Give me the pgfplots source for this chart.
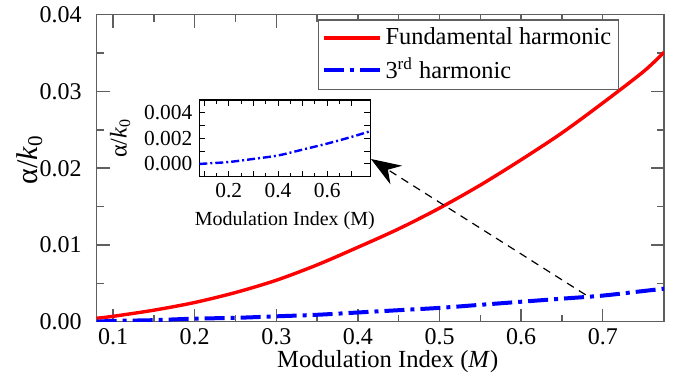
\documentclass[border=0pt]{standalone}
\usepackage{fontspec}
\setmainfont{Liberation Serif}
\usepackage{pgfplots}
\pgfplotsset{compat=1.18}
\usetikzlibrary{arrows.meta,calc}
\definecolor{axgray}{RGB}{95,95,95}
\begin{document}
\begin{tikzpicture}
\begin{axis}[name=main, scale only axis, width=283.65pt, height=153.5pt,
  xmin=0.08, xmax=0.775, ymin=0, ymax=0.04,
  xtick={0.1,0.2,0.3,0.4,0.5,0.6,0.7}, ytick={0,0.01,0.02,0.03,0.04},
  minor x tick num=1, minor y tick num=1,
  tick align=inside, major tick length=6.5pt, minor tick length=3.5pt,
  axis line style={axgray, line width=0.7pt},
  every tick/.style={axgray, line width=0.7pt},
  scaled y ticks=false, scaled x ticks=false,
  /pgf/number format/assume math mode=true,
  tick label style={font=\fontsize{12}{14}\selectfont},
  yticklabel style={xshift=-4pt, /pgf/number format/.cd, fixed, fixed zerofill, precision=2},
  xticklabel style={/pgf/number format/.cd, fixed, fixed zerofill, precision=1},
  xlabel={Modulation Index (\textit{M})},
  ylabel={α/\textit{k}\textsubscript{0}},
  xlabel style={font=\fontsize{12.3}{14}\selectfont, at={(rel axis cs:0.513,0)}, anchor=base, yshift=-23pt, inner sep=0pt},
  ylabel style={font=\fontsize{15}{17}\selectfont, at={(rel axis cs:-0.118,0.527)}, anchor=center},
  legend style={at={(rel axis cs:0.39,0.985)}, anchor=north west, draw=axgray, line width=0.6pt,
    font=\fontsize{12.2}{14}\selectfont, cells={anchor=west}, inner xsep=1.5pt, inner ysep=2pt, row sep=1pt},
  legend image code/.code={\draw[#1] (0pt,0pt) -- (28pt,0pt);},
]
\addplot[red, line width=1.7pt, smooth] coordinates {
(0.08,0.00045) (0.10,0.0007) (0.15,0.0015) (0.20,0.0025) (0.25,0.0038) (0.30,0.0054)
(0.35,0.0074) (0.40,0.0097) (0.45,0.0121) (0.50,0.0148) (0.55,0.0178) (0.60,0.0211)
(0.65,0.0246) (0.70,0.0285) (0.75,0.0326) (0.775,0.0351)};
\addlegendentry{Fundamental harmonic}
\addplot[blue, line width=2pt, smooth, dash pattern=on 10pt off 3pt on 2pt off 3pt] coordinates {
(0.08,0.0000) (0.10,0.0001) (0.15,0.0002) (0.20,0.0004) (0.25,0.0005) (0.30,0.0007)
(0.35,0.0009) (0.40,0.0012) (0.45,0.0015) (0.50,0.0018) (0.55,0.0022) (0.60,0.0026)
(0.65,0.0030) (0.70,0.0034) (0.75,0.0040) (0.775,0.0043)};
\addlegendentry{3\textsuperscript{rd} harmonic}
\draw[black, line width=0.6pt, dash pattern=on 4pt off 3pt, -{Stealth[length=15pt,width=11pt,inset=5pt]}]
  (axis cs:0.679,0.0035) -- (axis cs:0.416,0.0212);
\end{axis}
\begin{axis}[at={($(main.south west)+(51.3pt,72.5pt)$)}, anchor=south west,
  scale only axis, width=85.5pt, height=38.35pt,
  xmin=0.08, xmax=0.775, ymin=-0.001, ymax=0.005,
  axis background/.style={fill=white},
  scaled y ticks=false, scaled x ticks=false,
  xtick={0.1,0.2,0.3,0.4,0.5,0.6,0.7}, xticklabels={,0.2,,0.4,,0.6,},
  ytick={0,0.001,0.002,0.003,0.004}, yticklabels={0.000,,0.002,,0.004},
  minor x tick num=1,
  tick align=inside, major tick length=3pt, minor tick length=2pt,
  axis line style={black, line width=0.6pt},
  every tick/.style={black, line width=0.5pt},
  tick label style={font=\fontsize{10.7}{12}\selectfont},
  xlabel={Modulation Index (M)},
  ylabel={α/\textit{k}\textsubscript{0}},
  xlabel style={font=\fontsize{10}{12}\selectfont},
  ylabel style={font=\fontsize{12}{14}\selectfont},
]
\addplot[blue, line width=1.2pt, smooth, dash pattern=on 4pt off 1.5pt on 1pt off 1.5pt] coordinates {
(0.08,0.00000) (0.10,0.00002) (0.20,0.00015) (0.30,0.00039) (0.40,0.00066)
(0.50,0.00112) (0.60,0.00159) (0.70,0.00212) (0.775,0.00256)};
\end{axis}
\pgfresetboundingbox
\path ([xshift=-48.35pt,yshift=-26.15pt]main.south west) rectangle ([xshift=5.5pt,yshift=7.35pt]main.north east);
\end{tikzpicture}
\end{document}
